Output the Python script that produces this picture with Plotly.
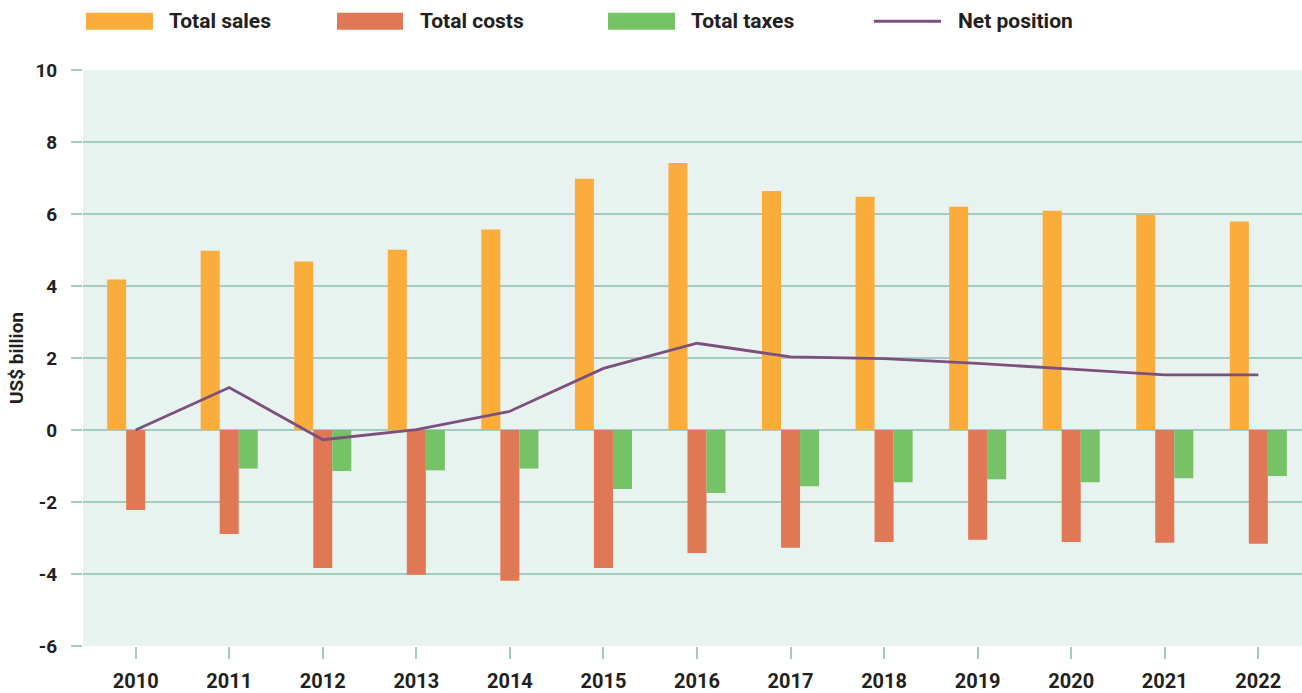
import plotly.graph_objects as go

years = ["2010", "2011", "2012", "2013", "2014", "2015", "2016",
         "2017", "2018", "2019", "2020", "2021", "2022"]
total_sales = [4.18, 4.98, 4.68, 5.01, 5.57, 6.98, 7.42, 6.64, 6.48, 6.20, 6.09, 5.98, 5.79]
total_costs = [-2.22, -2.89, -3.83, -4.02, -4.19, -3.83, -3.42, -3.27, -3.11, -3.05, -3.11, -3.13, -3.16]
total_taxes = [0.0, -1.07, -1.14, -1.12, -1.07, -1.64, -1.75, -1.56, -1.45, -1.37, -1.45, -1.34, -1.28]
net_position = [0.0, 1.18, -0.27, 0.01, 0.52, 1.71, 2.41, 2.03, 1.98, 1.85, 1.69, 1.53, 1.53]
y_ticks = [-6, -4, -2, 0, 2, 4, 6, 8, 10]
y_tick_labels = ["-6", "-4", "-2", "0", "2", "4", "6", "8", "10"]

C_SALES = "#fbad3c"
C_COSTS = "#e07855"
C_TAXES = "#76c267"
C_NET = "#7b4f7e"
C_GRID = "#a3cbc3"
C_BG = "#e8f2ef"
C_TEXT = "#231f20"
FONT = "Roboto"

W, H = 1302, 693
ML, MR, MT, MB = 83, 0, 70, 45
PW, PH = W - ML - MR, H - MT - MB


def px_x(p):
    return (p - ML) / PW


def px_y(p):
    return (H - MB - p) / PH


fig = go.Figure()
fig.add_trace(go.Bar(x=years, y=total_sales, name="Total sales", marker_color=C_SALES, marker_line_width=0))
fig.add_trace(go.Bar(x=years, y=total_costs, name="Total costs", marker_color=C_COSTS, marker_line_width=0))
fig.add_trace(go.Bar(x=years, y=total_taxes, name="Total taxes", marker_color=C_TAXES, marker_line_width=0))
fig.add_trace(go.Scatter(x=years, y=net_position, name="Net position", mode="lines",
                         line=dict(color=C_NET, width=2.8)))

# custom legend (wide swatches)
legend_items = [
    ("Total sales", C_SALES, "bar", 86, 153, 167),
    ("Total costs", C_COSTS, "bar", 337, 403, 418),
    ("Total taxes", C_TAXES, "bar", 608, 675, 689),
    ("Net position", C_NET, "line", 874, 941, 956),
]
shapes = []
annotations = []
for name, col, kind, x0, x1, tx in legend_items:
    if kind == "bar":
        shapes.append(dict(type="rect", xref="paper", yref="paper",
                           x0=px_x(x0), x1=px_x(x1), y0=px_y(29.5), y1=px_y(12.5),
                           fillcolor=col, line_width=0))
    else:
        shapes.append(dict(type="line", xref="paper", yref="paper",
                           x0=px_x(x0), x1=px_x(x1), y0=px_y(21), y1=px_y(21),
                           line=dict(color=col, width=3)))
    annotations.append(dict(text=name, xref="paper", yref="paper", x=px_x(tx), y=px_y(21),
                            xanchor="left", yanchor="middle", showarrow=False,
                            font=dict(family=FONT, size=21, color=C_TEXT, weight="bold")))

fig.update_layout(
    width=W, height=H,
    margin=dict(l=ML, r=MR, t=MT, b=MB, pad=0),
    paper_bgcolor="white",
    plot_bgcolor=C_BG,
    barmode="group",
    bargap=0.39,
    bargroupgap=0,
    showlegend=False,
    shapes=shapes,
    annotations=annotations,
    font=dict(family=FONT, size=18, color=C_TEXT),
)
fig.update_xaxes(
    type="category",
    range=[-0.563, 12.467],
    showgrid=False, zeroline=False, showline=False,
    ticks="outside", ticklen=12, tickwidth=1.5, tickcolor=C_GRID,
    tickfont=dict(family=FONT, size=20, color=C_TEXT, weight="bold"),
    ticklabelstandoff=5,
)
fig.update_yaxes(
    range=[-6, 10],
    tickvals=y_ticks,
    ticktext=y_tick_labels,
    showgrid=True, gridcolor=C_GRID, gridwidth=1.8,
    zeroline=False, showline=False,
    ticks="outside", ticklen=11, tickwidth=1.8, tickcolor=C_GRID,
    tickfont=dict(family=FONT, size=19, color=C_TEXT, weight="bold"),
    ticklabelstandoff=10,
    title=dict(text="US$ billion", standoff=6,
               font=dict(family=FONT, size=19, color=C_TEXT, weight="bold")),
)

fig.write_html("out.html", config={"displayModeBar": False},
               post_script="document.body.style.margin='0';document.body.style.overflow='hidden';")
